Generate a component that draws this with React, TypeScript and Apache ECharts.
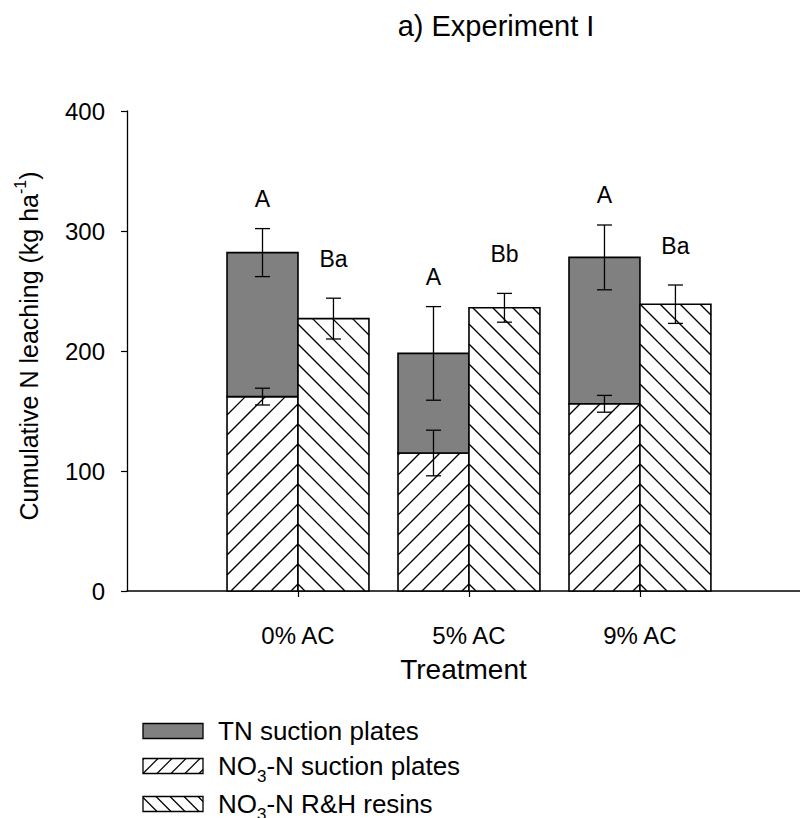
import React, { useEffect, useRef } from "react";
import * as echarts from "echarts";

const categories = ["0% AC", "5% AC", "9% AC"];
const catPos = [1, 2, 3];
const tnValues = [282, 198, 278];
const tnErrors = [20, 39, 27];
const no3Values = [162, 115, 156];
const no3Errors = [7, 19, 7];
const resinValues = [227, 236, 239];
const resinErrors = [17, 12, 16];
const tnLetters = ["A", "A", "A"];
const resinLetters = ["Ba", "Bb", "Ba"];
const yTicks = [0, 100, 200, 300, 400];

const FONT = "'Liberation Sans', Arial, sans-serif";
const BAR_HALF = 0.415; // bar width in x-axis units
const HATCH = 20;

function measure(text: string, size: number): number {
  const c = document.createElement("canvas");
  const ctx = c.getContext("2d")!;
  ctx.font = `${size}px 'Liberation Sans'`;
  return ctx.measureText(text).width;
}

function hatchLines(x0: number, x1: number, y0: number, y1: number, dir: "/" | "\\", ax: number, ay: number, lw: number, step = HATCH) {
  const out: any[] = [];
  const style = { stroke: "#000", lineWidth: lw };
  if (dir === "/") {
    const base = ax + ay;
    const cMin = x0 + y0, cMax = x1 + y1;
    const kStart = Math.floor((base - cMax) / step) - 1;
    const kEnd = Math.ceil((base - cMin) / step) + 1;
    for (let k = kStart; k <= kEnd; k++) {
      const c = base - k * step;
      const from = Math.max(x0, c - y1);
      const to = Math.min(x1, c - y0);
      if (to - from > 0.5) out.push({ type: "line", shape: { x1: from, y1: c - from, x2: to, y2: c - to }, style });
    }
  } else {
    const base = ay - ax;
    const cMin = y0 - x1, cMax = y1 - x0;
    const kStart = Math.floor((base - cMax) / step) - 1;
    const kEnd = Math.ceil((base - cMin) / step) + 1;
    for (let k = kStart; k <= kEnd; k++) {
      const c = base - k * step;
      const from = Math.max(x0, y0 - c);
      const to = Math.min(x1, y1 - c);
      if (to - from > 0.5) out.push({ type: "line", shape: { x1: from, y1: from + c, x2: to, y2: to + c }, style });
    }
  }
  return out;
}

function errBar(x: number, yTop: number, yBot: number) {
  const s = { stroke: "#000", lineWidth: 1.3 };
  return [
    { type: "line", shape: { x1: x, y1: yTop, x2: x, y2: yBot }, style: s },
    { type: "line", shape: { x1: x - 7.5, y1: yTop, x2: x + 7.5, y2: yTop }, style: s },
    { type: "line", shape: { x1: x - 7.5, y1: yBot, x2: x + 7.5, y2: yBot }, style: s },
  ];
}

export default function App() {
  const ref = useRef<HTMLDivElement>(null);
  useEffect(() => {
    if (!ref.current) return;
    const chart = echarts.init(ref.current, undefined, { renderer: "svg" });

    const data = catPos.map((p, i) => [p, tnValues[i], no3Values[i], resinValues[i], tnErrors[i], no3Errors[i], resinErrors[i]]);

    const renderItem = (params: any, api: any) => {
      const x = api.value(0);
      const tn = api.value(1), no3 = api.value(2), res = api.value(3);
      const tnE = api.value(4), no3E = api.value(5), resE = api.value(6);
      const i = params.dataIndex;
      const pL = api.coord([x - BAR_HALF, 0]);
      const pC = api.coord([x, 0]);
      const pR = api.coord([x + BAR_HALF, 0]);
      const y0 = pC[1];
      const yTN = api.coord([x, tn])[1];
      const yNO3 = api.coord([x, no3])[1];
      const yRes = api.coord([x, res])[1];
      const cxL = (pL[0] + pC[0]) / 2;
      const cxR = (pC[0] + pR[0]) / 2;
      const border = { stroke: "#000", lineWidth: 1.6, fill: "none" };
      const ay = y0 - 7;
      const children: any[] = [];
      children.push({ type: "rect", shape: { x: pL[0], y: yNO3, width: pC[0] - pL[0], height: y0 - yNO3 }, style: { fill: "#fff" } });
      children.push(...hatchLines(pL[0], pC[0], yNO3, y0, "/", pC[0], ay, 1.3));
      children.push({ type: "rect", shape: { x: pL[0], y: yNO3, width: pC[0] - pL[0], height: y0 - yNO3 }, style: border });
      children.push({ type: "rect", shape: { x: pL[0], y: yTN, width: pC[0] - pL[0], height: yNO3 - yTN }, style: { fill: "#808080", stroke: "#000", lineWidth: 1.6 } });
      children.push({ type: "rect", shape: { x: pC[0], y: yRes, width: pR[0] - pC[0], height: y0 - yRes }, style: { fill: "#fff" } });
      children.push(...hatchLines(pC[0], pR[0], yRes, y0, "\\", pC[0], ay, 1.3));
      children.push({ type: "rect", shape: { x: pC[0], y: yRes, width: pR[0] - pC[0], height: y0 - yRes }, style: border });
      const tnTop = api.coord([x, tn + tnE])[1];
      const tnBot = api.coord([x, tn - tnE])[1];
      children.push(...errBar(cxL, tnTop, tnBot));
      children.push(...errBar(cxL, api.coord([x, no3 + no3E])[1], api.coord([x, no3 - no3E])[1]));
      const resTop = api.coord([x, res + resE])[1];
      children.push(...errBar(cxR, resTop, api.coord([x, res - resE])[1]));
      children.push({ type: "text", x: cxL, y: tnTop - 30, style: { text: tnLetters[i], font: `23px ${FONT}`, fill: "#000", align: "center", verticalAlign: "middle" } });
      children.push({ type: "text", x: cxR, y: resTop - 39, style: { text: resinLetters[i], font: `23px ${FONT}`, fill: "#000", align: "center", verticalAlign: "middle" } });
      return { type: "group", children };
    };

    // legend graphics
    const legendX = 143, legendW = 60, legendH = 15, textX = 218;
    const rows = [731, 766, 804];
    const LF = 26;
    const legendChildren: any[] = [];
    const swatch = (cy: number, kind: "gray" | "/" | "\\") => {
      const y0 = cy - legendH / 2;
      const els: any[] = [];
      if (kind === "gray") {
        els.push({ type: "rect", shape: { x: legendX, y: y0, width: legendW, height: legendH }, style: { fill: "#808080", stroke: "#000", lineWidth: 1.3 } });
      } else {
        els.push({ type: "rect", shape: { x: legendX, y: y0, width: legendW, height: legendH }, style: { fill: "#fff" } });
        els.push(...hatchLines(legendX, legendX + legendW, y0, y0 + legendH, kind, legendX, y0 + legendH, 1.2, 14));
        els.push({ type: "rect", shape: { x: legendX, y: y0, width: legendW, height: legendH }, style: { fill: "none", stroke: "#000", lineWidth: 1.3 } });
      }
      return els;
    };
    legendChildren.push(...swatch(rows[0], "gray"));
    legendChildren.push(...swatch(rows[1], "/"));
    legendChildren.push(...swatch(rows[2], "\\"));
    const t = (x: number, y: number, text: string, size: number) => ({ type: "text", x, y, style: { text, font: `${size}px ${FONT}`, fill: "#000", align: "left", verticalAlign: "middle" } });
    legendChildren.push(t(textX, rows[0], "TN suction plates", LF));
    const subRow = (y: number, rest: string) => {
      const wNO = measure("NO", LF);
      const w3 = measure("3", 17);
      return [t(textX, y, "NO", LF), t(textX + wNO, y + 10, "3", 17), t(textX + wNO + w3, y, rest, LF)];
    };
    legendChildren.push(...subRow(rows[1], "-N suction plates"));
    legendChildren.push(...subRow(rows[2], "-N R&H resins"));

    // y axis name with superscript
    const YF = 25;
    const main = "Cumulative N leaching (kg ha";
    const wMain = measure(main, YF), wSup = measure("-1", 16), wPar = measure(")", YF);
    const total = wMain + wSup + wPar;
    const yName = {
      type: "group",
      x: 29,
      y: 346,
      rotation: Math.PI / 2,
      children: [
        t(-total / 2, 0, main, YF),
        t(-total / 2 + wMain, -9, "-1", 16),
        t(-total / 2 + wMain + wSup, 0, ")", YF),
      ],
    };

    chart.setOption({
      animation: false,
      backgroundColor: "#fff",
      textStyle: { fontFamily: FONT },
      grid: { left: 127, right: 0, top: 111, bottom: 227, containLabel: false },
      xAxis: {
        type: "value",
        min: 0,
        max: 3.936,
        interval: 1,
        name: "Treatment",
        nameLocation: "middle",
        nameGap: 64,
        nameTextStyle: { fontSize: 28, color: "#000", fontFamily: FONT },
        axisLine: { show: true, onZero: false, lineStyle: { color: "#000", width: 1.5 } },
        axisTick: { show: true, inside: false, length: 6, customValues: catPos, lineStyle: { color: "#000", width: 1.2 } },
        axisLabel: {
          show: true,
          customValues: catPos,
          margin: 32,
          fontSize: 24,
          color: "#000",
          fontFamily: FONT,
          formatter: (v: number) => {
            const idx = catPos.indexOf(Math.round(v));
            return Math.abs(v - Math.round(v)) < 1e-6 && idx >= 0 ? categories[idx] : "";
          },
        },
        splitLine: { show: false },
      },
      yAxis: {
        type: "value",
        min: yTicks[0],
        max: yTicks[yTicks.length - 1],
        interval: 100,
        axisLine: { show: true, lineStyle: { color: "#000", width: 1.3 } },
        axisTick: { show: true, inside: false, length: 6, lineStyle: { color: "#000", width: 1.2 } },
        axisLabel: { fontSize: 24, color: "#000", margin: 22, fontFamily: FONT },
        splitLine: { show: false },
      },
      series: [
        {
          type: "custom",
          name: "bars",
          renderItem,
          data,
          encode: { x: 0, y: [1, 2, 3] },
          clip: false,
        },
      ],
      graphic: [
        { type: "text", x: 496, y: 26, style: { text: "a) Experiment I", font: `29px ${FONT}`, fill: "#000", align: "center", verticalAlign: "middle" } },
        yName,
        { type: "group", children: legendChildren },
      ],
    });
    return () => chart.dispose();
  }, []);
  return <div ref={ref} style={{ position: "absolute", left: 0, top: 0, width: 800, height: 818, background: "#fff" }} />;
}
